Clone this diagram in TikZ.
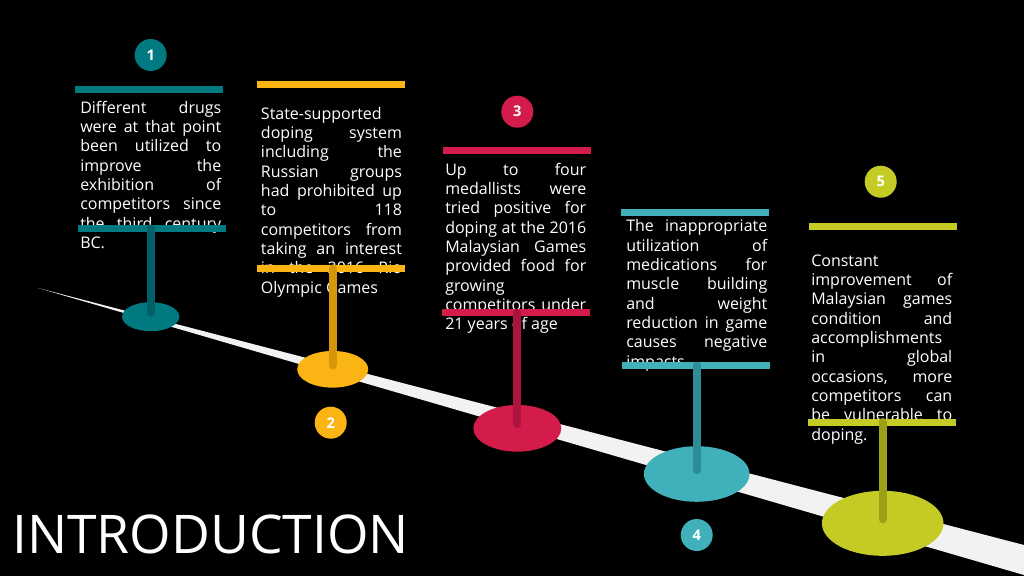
\documentclass[tikz,border=0pt]{standalone}
\usepackage{fontspec}
\setmainfont{Open Sans}
\usetikzlibrary{positioning,shapes.geometric}

\definecolor{tealA}{RGB}{0,122,128}
\definecolor{tealAd}{RGB}{0,96,104}
\definecolor{amber}{RGB}{250,181,21}
\definecolor{amberd}{RGB}{214,150,10}
\definecolor{crimson}{RGB}{212,28,74}
\definecolor{crimsond}{RGB}{170,20,62}
\definecolor{cyanB}{RGB}{64,176,186}
\definecolor{cyanBd}{RGB}{46,140,150}
\definecolor{lime}{RGB}{196,203,36}
\definecolor{limed}{RGB}{155,160,22}
\definecolor{road}{RGB}{242,242,242}

\tikzset{
  bar/.style={fill=#1, minimum width=111pt, minimum height=5.25pt, inner sep=0pt},
  foot/.style={ellipse, fill=#1, inner sep=0pt},
  stem/.style={draw=#1, line width=6pt, line cap=round},
  num/.style={circle, fill=#1, minimum size=24pt, inner sep=0pt, text=white,
    font=\bfseries\fontsize{11}{11}\selectfont},
  blurb/.style={text=white, text width=105.75pt, align=justify, inner sep=0pt,
    anchor=base west, font=\fontsize{12}{14.5}\selectfont}
}

\begin{document}
\begin{tikzpicture}[x=0.75pt,y=-0.75pt]
  \useasboundingbox (0,0) rectangle (1024,576);
  \fill[black] (0,0) rectangle (1024,576);
  % road
  \fill[road] (38,288) -- (1024,545) -- (1024,575) -- cycle;

  % feet on the road
  \node[foot=tealA, minimum width=43pt, minimum height=21.75pt] (foot1) at (150.7,316.7) {};
  \node[foot=amber, minimum width=53.25pt, minimum height=27.5pt] (foot2) at (332.7,369.3) {};
  \node[foot=crimson, minimum width=66pt, minimum height=35pt] (foot3) at (517.3,428.3) {};
  \node[foot=cyanB, minimum width=79.2pt, minimum height=41.7pt] (foot4) at (696.7,474) {};
  \node[foot=lime, minimum width=91.2pt, minimum height=48.75pt] (foot5) at (882.7,523.3) {};

  % texts
  \node[blurb] (text1) at (80,113.3) {Different drugs\linebreak were at that point\linebreak been utilized to\linebreak improve the\linebreak exhibition of\linebreak competitors since\linebreak the third century\linebreak BC.};
  \node[blurb] (text2) at (260.7,119.3) {State-supported\newline doping system\linebreak including the\linebreak Russian groups\linebreak had prohibited up\linebreak to 118\linebreak competitors from\linebreak taking an interest\linebreak in the 2016 Rio\linebreak Olympic Games};
  \node[blurb] (text3) at (445,175) {Up to four\linebreak medallists were\linebreak tried positive for\linebreak doping at the 2016\linebreak Malaysian Games\linebreak provided food for\linebreak growing\newline competitors under\linebreak 21 years of age};
  \node[blurb] (text4) at (626,231.7) {The inappropriate\linebreak utilization of\linebreak medications for\linebreak muscle building\linebreak and weight\linebreak reduction in game\linebreak causes negative\linebreak impacts};
  \node[blurb] (text5) at (811,266) {Constant\newline improvement of\linebreak Malaysian games\linebreak condition and\linebreak accomplishments\newline in global\linebreak occasions, more\linebreak competitors can\linebreak be vulnerable to\linebreak doping.};

  % bars
  \node[bar=tealA] (bar1top) at (148.5,89.5) {};
  \node[bar=tealA] (bar1low) at (151.5,228.5) {};
  \node[bar=amber] (bar2top) at (331,84) {};
  \node[bar=amber] (bar2low) at (331,268.3) {};
  \node[bar=crimson] (bar3top) at (516.5,150.3) {};
  \node[bar=crimson] (bar3low) at (516,312.5) {};
  \node[bar=cyanB] (bar4top) at (695,212) {};
  \node[bar=cyanB] (bar4low) at (696,365.7) {};
  \node[bar=lime] (bar5top) at (882.5,226.3) {};
  \node[bar=lime] (bar5low) at (881.5,422) {};

  % stems
  \draw[stem=tealAd] (foot1 |- bar1low) -- ([yshift=3pt]foot1.center);
  \draw[stem=amberd] (foot2 |- bar2low) -- ([yshift=3pt]foot2.center);
  \draw[stem=crimsond] (foot3 |- bar3low) -- ([yshift=3pt]foot3.center);
  \draw[stem=cyanBd] (foot4 |- bar4low) -- ([yshift=3pt]foot4.center);
  \draw[stem=limed] (foot5 |- bar5low) -- ([yshift=3pt]foot5.center);

  % numbers
  \node[num=tealA] (num1) at (150.7,55) {1};
  \node[num=amber] (num2) at (330.7,422.7) {2};
  \node[num=crimson] (num3) at (517.3,111.7) {3};
  \node[num=cyanB] (num4) at (696.7,535) {4};
  \node[num=lime] (num5) at (880.7,181.7) {5};

  \node[anchor=base west, inner sep=0pt, text=white, font=\fontsize{40}{40}\selectfont] (title) at (12,553.5) {INTRODUCTION};
\end{tikzpicture}
\end{document}
